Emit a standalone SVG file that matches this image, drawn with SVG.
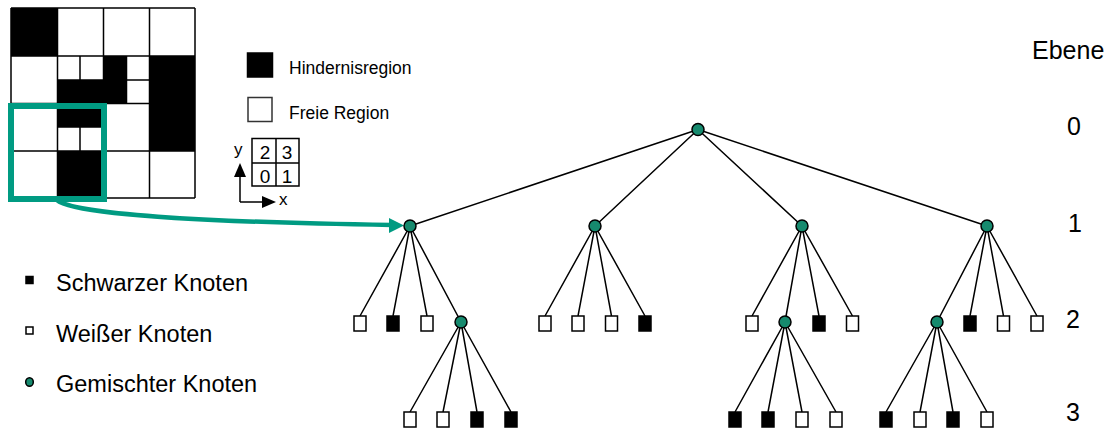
<svg xmlns="http://www.w3.org/2000/svg" width="1113" height="440" viewBox="0 0 1113 440">
<style>
text{font-family:"Liberation Sans",Arial,sans-serif;fill:#000}
.g{fill:#fff;stroke:#000;stroke-width:1.5}
.gb{fill:#000;stroke:#000;stroke-width:1.5}
.ln{stroke:#000;stroke-width:1.5;fill:none}
.w{fill:#fff;stroke:#000;stroke-width:1.5}
.b{fill:#000;stroke:#000;stroke-width:1.5}
.m{fill:#168a6e;stroke:#000;stroke-width:1.5}
.e{stroke:#000;stroke-width:1.5}
.lvl{font-size:25px;text-anchor:middle}
</style>
<rect width="1113" height="440" fill="#fff"/>

<g id="grid">
<rect x="11" y="8" width="184" height="190" fill="#fff"/>
<rect x="11" y="8" width="46.5" height="48" fill="#000"/>
<rect x="57.5" y="80" width="46" height="23.5" fill="#000"/>
<rect x="103.5" y="56" width="23" height="47.5" fill="#000"/>
<rect x="149.5" y="56" width="45.5" height="95" fill="#000"/>
<rect x="57.5" y="103.5" width="46" height="23.5" fill="#000"/>
<rect x="57.5" y="151" width="46" height="47" fill="#000"/>
<path class="ln" d="M11,8V198M57.5,8V198M103.5,8V198M149.5,8V198M195,8V198M11,8H195M11,56H195M11,103.5H195M11,151H195M11,198H195M80,56V80M57.5,80H149.5M126.5,56V103.5M57.5,127H103.5M80,127V151"/>
<rect x="11" y="106" width="93" height="93" fill="none" stroke="#009b82" stroke-width="6"/>
</g>

<g id="legend-top">
<rect x="247.5" y="53" width="25" height="24" class="gb"/>
<text x="289" y="74" font-size="17.5">Hindernisregion</text>
<rect x="248" y="97.5" width="24" height="24" fill="#fff" stroke="#333" stroke-width="1.5"/>
<text x="289" y="119" font-size="17.5">Freie Region</text>
</g>

<g id="quadrant-key">
<rect x="252" y="138.5" width="47" height="47.5" class="g"/>
<path class="ln" d="M276,138.5V186M252,163H299"/>
<text x="265" y="159" font-size="19" text-anchor="middle">2</text>
<text x="287" y="159" font-size="19" text-anchor="middle">3</text>
<text x="265" y="183" font-size="19" text-anchor="middle">0</text>
<text x="287" y="183" font-size="19" text-anchor="middle">1</text>
<path class="ln" d="M240,202V175M240,202H264"/>
<polygon points="240,163 234,177 246,177" fill="#000"/>
<polygon points="276,202 262,196 262,208" fill="#000"/>
<text x="234" y="155" font-size="17">y</text>
<text x="279" y="205" font-size="17">x</text>
</g>

<g id="legend-bottom">
<rect x="26" y="276.5" width="7" height="7" class="b"/>
<text x="56" y="291" font-size="23.5">Schwarzer Knoten</text>
<rect x="26" y="327" width="7" height="7" class="w"/>
<text x="56" y="342" font-size="23.5">Weißer Knoten</text>
<ellipse cx="29.5" cy="382" rx="3.8" ry="4.3" class="m"/>
<text x="56" y="392" font-size="23.5">Gemischter Knoten</text>
</g>

<g id="levels">
<text x="1032" y="59" font-size="25">Ebene</text>
<text x="1074" y="135" class="lvl">0</text>
<text x="1075" y="232" class="lvl">1</text>
<text x="1073" y="328" class="lvl">2</text>
<text x="1073" y="421" class="lvl">3</text>
</g>

<g id="connectors">
<path class="e" d="M698,129.5L410,226M698,129.5L595,226M698,129.5L802,226M698,129.5L987,226"/>
<path class="e" d="M410,226L360,316M410,226L393,316M410,226L427,316M410,226L461,322"/>
<path class="e" d="M595,226L545,316M595,226L578,316M595,226L611.5,316M595,226L645,316"/>
<path class="e" d="M802,226L752,316M802,226L785,322M802,226L819,316M802,226L852.5,316"/>
<path class="e" d="M987,226L937,322M987,226L970,316M987,226L1003.5,316M987,226L1037,316"/>
<path class="e" d="M461,322L410,412M461,322L443,412M461,322L477,412M461,322L511,412"/>
<path class="e" d="M785,322L735,412M785,322L768,412M785,322L802,412M785,322L836,412"/>
<path class="e" d="M937,322L886,412M937,322L920,412M937,322L953,412M937,322L987,412"/>
<path d="M57,200C72,214 200,222 392,225" fill="none" stroke="#009b82" stroke-width="4.5"/>
<polygon points="404,225.5 389,218 389,233" fill="#009b82"/>
</g>

<g id="n0"><circle cx="698" cy="129.5" r="6" class="m"/></g>
<g id="n1"><circle cx="410" cy="226" r="6" class="m"/></g>
<g id="n2"><circle cx="595" cy="226" r="6" class="m"/></g>
<g id="n3"><circle cx="802" cy="226" r="6" class="m"/></g>
<g id="n4"><circle cx="987" cy="226" r="6" class="m"/></g>

<g id="n1-0"><rect x="354" y="316" width="12" height="15" class="w"/></g>
<g id="n1-1"><rect x="387" y="316" width="12" height="15" class="b"/></g>
<g id="n1-2"><rect x="421" y="316" width="12" height="15" class="w"/></g>
<g id="n1-3"><circle cx="461" cy="322" r="6" class="m"/></g>

<g id="n2-0"><rect x="539" y="316" width="12" height="15" class="w"/></g>
<g id="n2-1"><rect x="572" y="316" width="12" height="15" class="w"/></g>
<g id="n2-2"><rect x="605.5" y="316" width="12" height="15" class="w"/></g>
<g id="n2-3"><rect x="639" y="316" width="12" height="15" class="b"/></g>

<g id="n3-0"><rect x="746" y="316" width="12" height="15" class="w"/></g>
<g id="n3-1"><circle cx="785" cy="322" r="6" class="m"/></g>
<g id="n3-2"><rect x="813" y="316" width="12" height="15" class="b"/></g>
<g id="n3-3"><rect x="846.5" y="316" width="12" height="15" class="w"/></g>

<g id="n4-0"><circle cx="937" cy="322" r="6" class="m"/></g>
<g id="n4-1"><rect x="964" y="316" width="12" height="15" class="b"/></g>
<g id="n4-2"><rect x="997.5" y="316" width="12" height="15" class="w"/></g>
<g id="n4-3"><rect x="1031" y="316" width="12" height="15" class="w"/></g>

<g id="n1-3-0"><rect x="404" y="412" width="12" height="15" class="w"/></g>
<g id="n1-3-1"><rect x="437" y="412" width="12" height="15" class="w"/></g>
<g id="n1-3-2"><rect x="471" y="412" width="12" height="15" class="b"/></g>
<g id="n1-3-3"><rect x="505" y="412" width="12" height="15" class="b"/></g>

<g id="n3-1-0"><rect x="729" y="412" width="12" height="15" class="b"/></g>
<g id="n3-1-1"><rect x="762" y="412" width="12" height="15" class="b"/></g>
<g id="n3-1-2"><rect x="796" y="412" width="12" height="15" class="w"/></g>
<g id="n3-1-3"><rect x="830" y="412" width="12" height="15" class="w"/></g>

<g id="n4-0-0"><rect x="880" y="412" width="12" height="15" class="b"/></g>
<g id="n4-0-1"><rect x="914" y="412" width="12" height="15" class="w"/></g>
<g id="n4-0-2"><rect x="947" y="412" width="12" height="15" class="b"/></g>
<g id="n4-0-3"><rect x="981" y="412" width="12" height="15" class="w"/></g>
</svg>
